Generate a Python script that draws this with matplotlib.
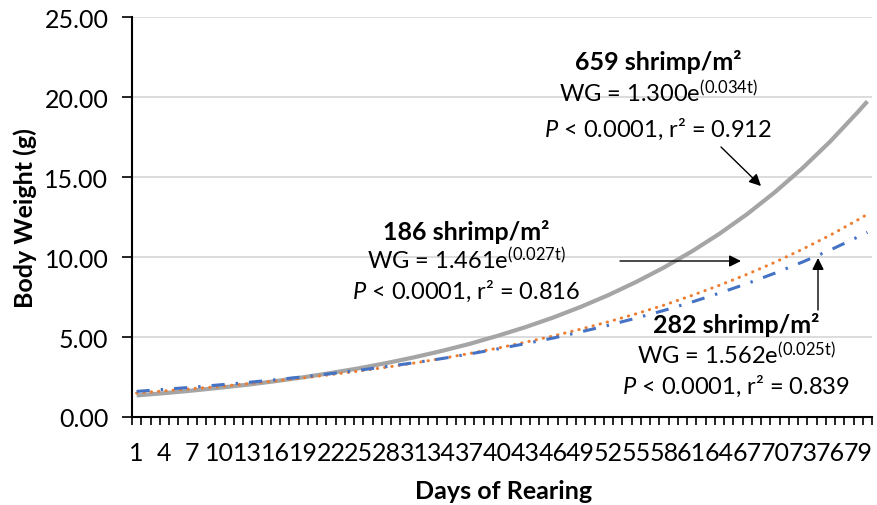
import matplotlib
matplotlib.use("Agg")
import matplotlib.pyplot as plt
import numpy as np

plt.rcParams['font.family'] = ['Lato', 'DejaVu Sans']
plt.rcParams['mathtext.fontset'] = 'custom'
plt.rcParams['mathtext.rm'] = 'Lato'
plt.rcParams['mathtext.it'] = 'Lato:italic'
plt.rcParams['mathtext.bf'] = 'Lato:bold'

days = [1, 4, 7, 10, 13, 16, 19, 22, 25, 28, 31, 34, 37, 40, 43, 46, 49, 52,
        55, 58, 61, 64, 67, 70, 73, 76, 79, 80]
w659 = [1.35, 1.49, 1.65, 1.83, 2.02, 2.24, 2.48, 2.75, 3.04, 3.37, 3.73, 4.13,
        4.57, 5.07, 5.61, 6.21, 6.88, 7.62, 8.44, 9.34, 10.34, 11.45, 12.68,
        14.05, 15.56, 17.23, 19.08, 19.73]
w186 = [1.50, 1.63, 1.77, 1.91, 2.08, 2.25, 2.44, 2.65, 2.87, 3.11, 3.37, 3.66,
        3.97, 4.30, 4.67, 5.06, 5.49, 5.95, 6.45, 6.99, 7.59, 8.23, 8.92, 9.67,
        10.49, 11.37, 12.33, 12.67]
w282 = [1.60, 1.73, 1.86, 2.01, 2.16, 2.33, 2.51, 2.71, 2.92, 3.15, 3.39, 3.65,
        3.94, 4.25, 4.58, 4.93, 5.32, 5.73, 6.18, 6.66, 7.18, 7.74, 8.34, 8.99,
        9.69, 10.44, 11.26, 11.54]
all_days = list(range(1, 81))
tick_days = list(range(1, 80, 3))
yticks = [0, 5, 10, 15, 20, 25]

FS = 18
FA = 17
W, H = 877, 506
fig = plt.figure(figsize=(W / 100, H / 100), dpi=100)
ax = fig.add_axes([132 / W, 1 - 418 / H, (872 - 132) / W, 400 / H])

ax.plot(days, w659, color='#A5A5A5', lw=3.0, solid_capstyle='butt', zorder=3)
ax.plot(days, w186, color='#ED7D31', lw=2.2, linestyle=(0, (0.1, 2.3)),
        dash_capstyle='round', zorder=4)
ax.plot(days, w282, color='#4472C4', lw=2.2, linestyle=(0, (4.3, 3.6, 0.8, 3.6)),
        dash_capstyle='butt', zorder=5)

ax.set_xlim(0.5, 80.5)
ax.set_ylim(0, 25)
ax.set_yticks(yticks)
ax.set_yticklabels([f"{v:.2f}" for v in yticks])
ax.set_xticks(tick_days)
ax.set_xticklabels([str(d) for d in tick_days])
ax.set_xticks([d - 0.5 for d in all_days] + [80.5], minor=True)
ax.tick_params(axis='x', which='major', length=0, pad=17, labelsize=FS)
ax.tick_params(axis='x', which='minor', length=5.5, width=1.2, color='#000000', direction='out')
ax.tick_params(axis='y', which='major', length=7, width=1.2, color='#000000', pad=10, labelsize=FS)
ax.grid(axis='y', color='#D9D9D9', lw=1.3, zorder=0)
for side in ['top', 'right']:
    ax.spines[side].set_visible(False)
ax.spines['left'].set_color('#000000')
ax.spines['left'].set_linewidth(1.5)
ax.spines['bottom'].set_color('#000000')
ax.spines['bottom'].set_linewidth(1.5)
ax.set_axisbelow(True)

fig.text(25 / W, 1 - 218 / H, 'Body Weight (g)', rotation=90, ha='center', va='center',
         fontsize=FS, fontweight='bold')
fig.text(504 / W, 1 - 492 / H, 'Days of Rearing', ha='center', va='center',
         fontsize=FS, fontweight='bold')

def label(cx, y1, y2, y3, title, a, b, r2):
    fig.text(cx / W, 1 - y1 / H, title, ha='center', va='center', fontsize=FS, fontweight='bold')
    fig.text(cx / W, 1 - y2 / H, f'WG = {a}e$^{{\\mathrm{{({b}t)}}}}$', ha='center', va='center', fontsize=FA)
    fig.text(cx / W, 1 - y3 / H, f'$P$ < 0.0001, r² = {r2}', ha='center', va='center', fontsize=FA)

label(658, 62, 94, 129, '659 shrimp/m²', '1.300', '0.034', '0.912')
label(466, 232, 261, 291, '186 shrimp/m²', '1.461', '0.027', '0.816')
label(736, 325, 356, 386, '282 shrimp/m²', '1.562', '0.025', '0.839')

def arrow(x0, y0, x1, y1):
    fig.add_artist(matplotlib.patches.FancyArrowPatch(
        (x0 / W, 1 - y0 / H), (x1 / W, 1 - y1 / H), transform=fig.transFigure,
        arrowstyle='-|>,head_length=7,head_width=3.5', color='black', lw=1.0,
        shrinkA=0, shrinkB=0, zorder=10))

arrow(721, 148, 761, 187)
arrow(620, 262, 741, 262)
arrow(818, 311, 818, 259)

fig.savefig('out.png', dpi=100)
